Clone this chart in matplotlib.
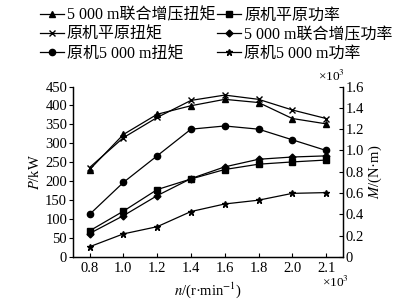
import matplotlib
matplotlib.use("Agg")
import matplotlib.pyplot as plt

plt.rcParams['font.family'] = ['Liberation Serif', 'Noto Sans CJK SC']
plt.rcParams['mathtext.fontset'] = 'stix'

speeds = ["0.8", "1.0", "1.2", "1.4", "1.6", "1.8", "2.0", "2.1"]

# torque, x10^3 N·m (right axis)
torque_boost_5000 = [0.82, 1.15, 1.34, 1.42, 1.48, 1.45, 1.30, 1.25]
torque_plain = [0.84, 1.12, 1.31, 1.47, 1.52, 1.48, 1.38, 1.30]
torque_orig_5000 = [0.40, 0.70, 0.95, 1.20, 1.23, 1.20, 1.10, 1.00]

# power, kW (left axis)
power_plain = [69, 121, 178, 206, 231, 245, 251, 256]
power_boost_5000 = [62, 109, 162, 207, 238, 258, 264, 267]
power_orig_5000 = [27, 61, 80, 120, 140, 150, 168, 170]

xs = list(range(len(speeds)))

fig = plt.figure(figsize=(4.05, 2.99), dpi=100)
ax = fig.add_axes([0.1795, 0.1405, 0.6675, 0.570])
ax2 = ax.twinx()

kw = dict(color='black', lw=0.9, ms=4.5)
h1, = ax2.plot(xs, torque_boost_5000, marker='^', label='5 000 m联合增压扭矩', **kw)
h2, = ax2.plot(xs, torque_plain, marker='x', label='原机平原扭矩', **kw)
h3, = ax2.plot(xs, torque_orig_5000, marker='o', label='原机5 000 m扭矩', **kw)
h4, = ax.plot(xs, power_plain, marker='s', label='原机平原功率', color='black', lw=0.9, ms=4)
h5, = ax.plot(xs, power_boost_5000, marker='D', label='5 000 m联合增压功率', color='black', lw=0.9, ms=3.5)
h6, = ax.plot(xs, power_orig_5000, marker='*', label='原机5 000 m功率', **kw)

ax.set_xlim(-0.5, 7.5)
ax.set_ylim(0, 450)
ax2.set_ylim(0, 1.6)
ax.set_xticks(xs)
ax.set_xticklabels(speeds)
ax.set_yticks(range(0, 451, 50))
ax2.set_yticks([0, 0.2, 0.4, 0.6, 0.8, 1.0, 1.2, 1.4, 1.6])
ax2.set_yticklabels(['0', '0.2', '0.4', '0.6', '0.8', '1.0', '1.2', '1.4', '1.6'])

for a in (ax, ax2):
    a.spines['top'].set_visible(False)
    for s in a.spines.values():
        s.set_linewidth(0.9)
ax.tick_params(axis='y', direction='out', length=3, labelsize=10.5, pad=1)
ax.tick_params(axis='x', direction='in', length=3, labelsize=10.5)
ax2.tick_params(axis='y', direction='in', length=3, labelsize=10.5, pad=2)

ax.set_ylabel('$P$/kW', fontsize=10.5, labelpad=2)
ax2.set_ylabel('$M$/(N·m)', fontsize=10.5, labelpad=2)
ax.set_xlabel('$n$/(r·min$^{-1}$)', fontsize=10.5, labelpad=4)

fig.text(0.785, 0.73, '×10$^3$', fontsize=9.5)
fig.text(0.795, 0.04, '×10$^3$', fontsize=9.5)

fig.legend(handles=[h1, h2, h3, h4, h5, h6], ncol=2, loc='upper left',
           bbox_to_anchor=(0.09, 0.985), frameon=False, fontsize=11.5,
           handlelength=1.5, handletextpad=0.2, columnspacing=0.1,
           labelspacing=0.2, borderaxespad=0.0, borderpad=0.2)

fig.savefig('out.png', dpi=100)
